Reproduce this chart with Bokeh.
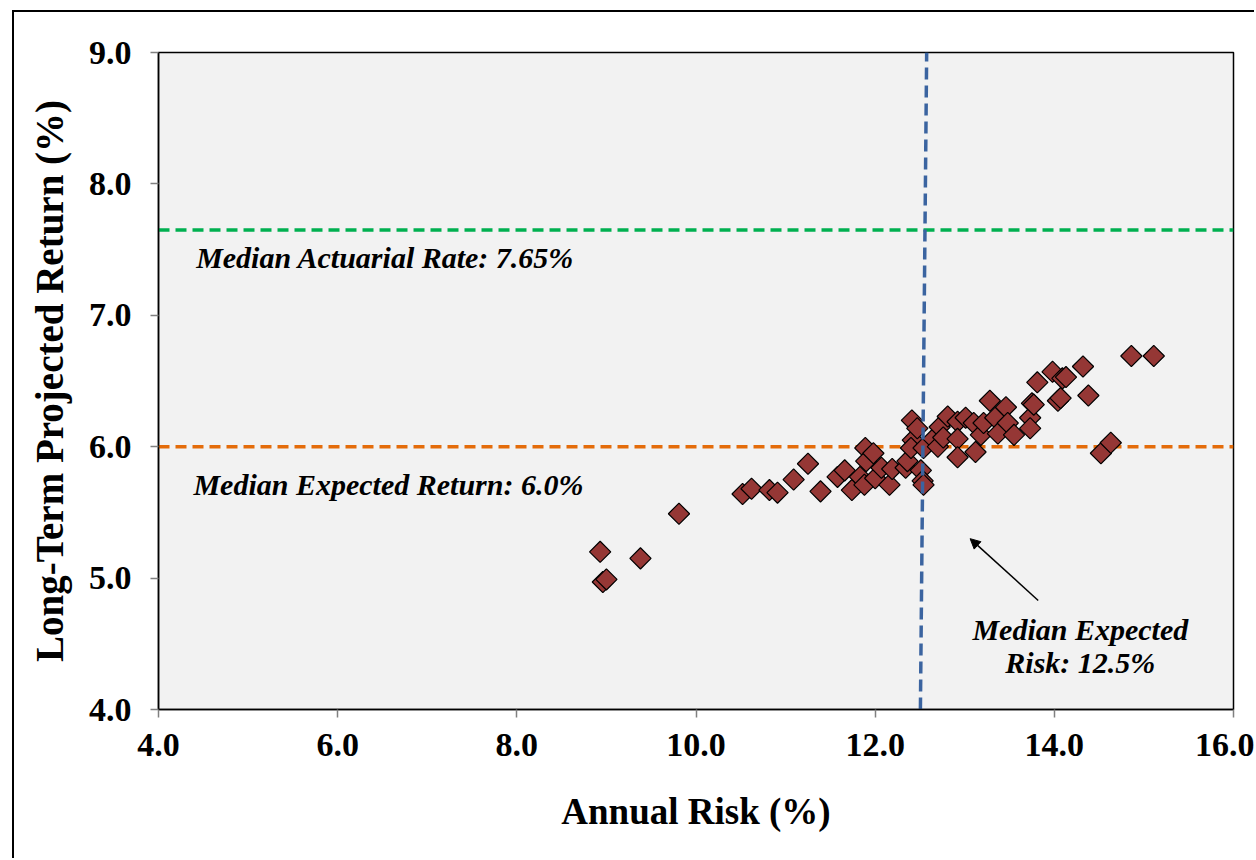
from bokeh.plotting import figure
from bokeh.models import Span, Arrow, NormalHead, Label, FixedTicker, NumeralTickFormatter
from bokeh.embed import file_html
from bokeh.resources import INLINE

# Data
annual_risk = [8.93, 8.96, 9.00, 9.38, 9.81, 10.52, 10.62, 10.82, 10.91, 11.09,
               11.25, 11.39, 11.58, 11.66, 11.74, 11.83, 11.89, 11.90, 11.88, 12.00,
               12.07, 12.16, 12.19, 11.98, 12.34, 12.36, 12.41, 12.42, 12.40, 12.51,
               12.53, 12.54, 12.47, 12.54, 12.65, 12.70, 12.72, 12.76, 12.81, 12.92,
               12.92, 12.92, 13.01, 13.10, 13.12, 13.18, 13.21, 13.28, 13.34, 13.37,
               13.46, 13.48, 13.55, 13.75, 13.73, 13.73, 13.77, 13.81, 13.98, 14.04,
               14.07, 14.09, 14.13, 14.32, 14.38, 14.52, 14.63, 14.86, 15.11]
projected_return = [5.20, 4.97, 4.99, 5.15, 5.49, 5.64, 5.68, 5.67, 5.65, 5.75,
                    5.87, 5.66, 5.77, 5.82, 5.67, 5.77, 5.99, 5.89, 5.71, 5.76,
                    5.84, 5.71, 5.83, 5.95, 5.84, 5.89, 6.20, 6.05, 5.99, 5.82,
                    5.74, 5.71, 6.14, 5.99, 6.06, 6.00, 6.15, 6.07, 6.23, 6.19,
                    6.06, 5.92, 6.22, 6.18, 5.96, 6.09, 6.18, 6.35, 6.22, 6.10,
                    6.30, 6.18, 6.09, 6.33, 6.22, 6.14, 6.32, 6.49, 6.57, 6.35,
                    6.37, 6.52, 6.53, 6.61, 6.39, 5.95, 6.03, 6.69, 6.69]

x_ticks = [4, 6, 8, 10, 12, 14, 16]
y_ticks = [4, 5, 6, 7, 8, 9]
median_actuarial_rate = 7.65
median_expected_return = 6.0
median_risk_line_x = [12.505, 12.575]   # the drawn line is slightly slanted
median_risk_line_y = [4.0, 9.0]

FONT = "Liberation Serif"

p = figure(width=1242, height=848, x_range=(4, 16), y_range=(4, 9),
           output_backend="svg", toolbar_location=None,
           min_border_left=144, min_border_right=23, min_border_top=40, min_border_bottom=151,
           background_fill_color="#F2F2F2", border_fill_color="white",
           margin=(10, 0, 0, 12),
           styles={"border-left": "2px solid black", "border-top": "2px solid black"})

p.outline_line_color = "black"
p.outline_line_width = 1.5
p.xgrid.visible = False
p.ygrid.visible = False

p.xaxis.ticker = FixedTicker(ticks=x_ticks)
p.yaxis.ticker = FixedTicker(ticks=y_ticks)
p.xaxis.formatter = NumeralTickFormatter(format="0.0")
p.yaxis.formatter = NumeralTickFormatter(format="0.0")

for ax in (p.xaxis[0], p.yaxis[0]):
    ax.axis_line_color = "black"
    ax.axis_line_width = 1.5
    ax.major_tick_line_color = "#808080"
    ax.major_tick_line_width = 1.5
    ax.major_tick_out = 8
    ax.major_tick_in = 0
    ax.minor_tick_line_color = None
    ax.major_label_text_font = FONT
    ax.major_label_text_font_style = "bold"
    ax.major_label_text_font_size = "34px"
    ax.major_label_text_color = "black"
    ax.axis_label_text_font = FONT
    ax.axis_label_text_font_style = "bold"
    ax.axis_label_text_color = "black"

p.xaxis.axis_label = "Annual Risk (%)"
p.yaxis.axis_label = "Long-Term Projected Return (%)"
p.xaxis.axis_label_text_font_size = "37px"
p.yaxis.axis_label_text_font_size = "39px"
p.xaxis.major_label_standoff = 16
p.yaxis.major_label_standoff = 19
p.xaxis.axis_label_standoff = 32
p.yaxis.axis_label_standoff = 15

# Reference lines (under the points)
p.add_layout(Span(location=median_actuarial_rate, dimension="width", line_color="#00B050",
                  line_width=3.5, line_dash="11 6", level="underlay"))
p.add_layout(Span(location=median_expected_return, dimension="width", line_color="#E46C0A",
                  line_width=3.5, line_dash="11 6", level="underlay"))

p.scatter(annual_risk, projected_return, marker="square", size=15, angle=0.785398,
          fill_color="#953735", line_color="black", line_width=1.2)

p.line(median_risk_line_x, median_risk_line_y, line_color="#3B64A0", line_width=3.5, line_dash="12 6")

lbl = dict(text_font=FONT, text_font_style="bold italic", text_font_size="30px",
           text_color="black", text_baseline="middle")
p.add_layout(Label(x=4.42, y=7.44, text="Median Actuarial Rate: 7.65%", text_align="left", **lbl))
p.add_layout(Label(x=4.39, y=5.71, text="Median Expected Return: 6.0%", text_align="left", **lbl))
p.add_layout(Label(x=14.29, y=4.61, text="Median Expected", text_align="center", **lbl))
p.add_layout(Label(x=14.29, y=4.36, text="Risk: 12.5%", text_align="center", **lbl))

p.add_layout(Arrow(end=NormalHead(size=10, fill_color="black", line_color="black"),
                   x_start=13.82, y_start=4.83, x_end=13.06, y_end=5.30,
                   line_color="black", line_width=1.5))

open("out.html", "w").write(file_html(p, INLINE))
